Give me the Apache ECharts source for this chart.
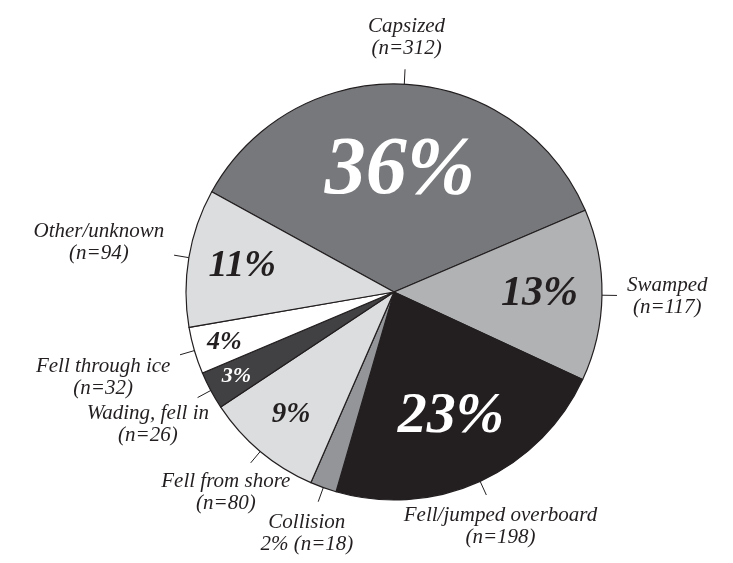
<!DOCTYPE html>
<html>
<head>
<meta charset="utf-8">
<title>Drowning circumstances</title>
<script src="https://cdn.jsdelivr.net/npm/echarts@6/dist/echarts.min.js"></script>
<style>
  html, body { margin: 0; padding: 0; background: #fff; }
  #chart { width: 733px; height: 563px; }
</style>
</head>
<body>
<div id="chart"></div>
<script>
// categories, clockwise from the upper-left edge
const causes = ['Capsized', 'Swamped', 'Fell/jumped overboard', 'Collision',
  'Fell from shore', 'Wading, fell in', 'Fell through ice', 'Other/unknown'];
// number of cases (n)
const counts = [312, 117, 198, 18, 80, 26, 32, 94];

// slice fills
const fills = ['#77787b', '#b1b2b4', '#231f20', '#939598', '#dcdddf', '#414042', '#ffffff', '#dcdddf'];
// percent labels inside the slices: size, colour, distance from centre (share of radius)
const pctSize = [82, 42, 58, 0, 29, 22, 26, 38];
const pctColor = ['#fff', '#231f20', '#fff', '#231f20', '#231f20', '#fff', '#231f20', '#231f20'];
const pctDist = [0.58, 0.70, 0.66, 0, 0.77, 0.86, 0.85, 0.74];

const CX = 394, CY = 292, R = 208, START = 151.2;
const serif = '"Liberation Serif", "DejaVu Serif", serif';
const total = counts.reduce((a, b) => a + b, 0);
const pct = v => Math.round(v / total * 100);

const chart = echarts.init(document.getElementById('chart'));

chart.setOption({
  animation: false,
  series: [
    {
      // the slices, with name labels outside
      type: 'pie',
      center: [CX, CY],
      radius: R,
      startAngle: START,
      avoidLabelOverlap: false,
      itemStyle: { borderColor: '#231f20', borderWidth: 1.2 },
      emphasis: { disabled: true },
      data: causes.map((c, i) => ({ name: c, value: counts[i], itemStyle: { color: fills[i] } })),
      label: {
        show: true,
        position: 'outside',
        fontFamily: serif,
        fontStyle: 'italic',
        fontSize: 21,
        lineHeight: 22,
        color: '#231f20',
        formatter: p => p.name + '\n' + (pct(p.value) < 3 ? pct(p.value) + '% ' : '') + '(n=' + p.value + ')'
      },
      labelLine: { show: true, length: 15, length2: 0, lineStyle: { color: '#231f20', width: 1 } },
      labelLayout: function (p) {
        const pts = p.labelLinePoints;
        if (!pts) return {};
        const s = pts[0], e = pts[pts.length - 1];
        let ux = e[0] - s[0], uy = e[1] - s[1];
        const L = Math.hypot(ux, uy) || 1;
        ux /= L; uy /= L;
        const hw = p.labelRect.width / 2, hh = p.labelRect.height / 2;
        const k = Math.min(Math.abs(ux) > 1e-3 ? hw / Math.abs(ux) : 1e9,
                           Math.abs(uy) > 1e-3 ? hh / Math.abs(uy) : 1e9) + 10;
        return { x: e[0] + ux * k, y: e[1] + uy * k, align: 'center', verticalAlign: 'middle', labelLinePoints: pts };
      }
    },
    {
      // same slices, invisible, carrying the percent labels
      type: 'pie',
      center: [CX, CY],
      radius: R,
      startAngle: START,
      silent: true,
      avoidLabelOverlap: false,
      itemStyle: { color: 'rgba(0,0,0,0)', borderWidth: 0 },
      data: causes.map((c, i) => ({
        name: c, value: counts[i],
        label: { show: pctSize[i] > 0, fontSize: pctSize[i], color: pctColor[i] }
      })),
      label: {
        position: 'inside',
        fontFamily: serif,
        fontStyle: 'italic',
        fontWeight: 'bold',
        formatter: p => pct(p.value) + '%'
      },
      labelLine: { show: false },
      labelLayout: function (p) {
        const f = pctDist[p.dataIndex];
        const r = p.labelRect;
        const lx = r.x + r.width / 2, ly = r.y + r.height / 2;
        const d = Math.hypot(lx - CX, ly - CY) || 1;
        return { x: CX + (lx - CX) / d * f * R, y: CY + (ly - CY) / d * f * R, align: 'center', verticalAlign: 'middle' };
      }
    }
  ]
});
</script>
</body>
</html>
